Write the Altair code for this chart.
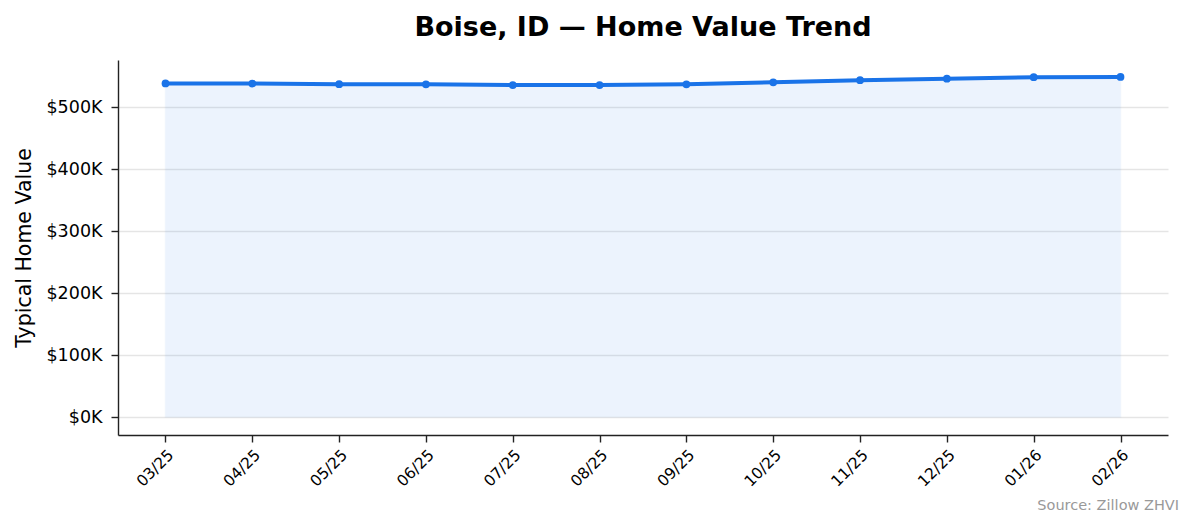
import altair as alt
import pandas as pd

months = ["03/25", "04/25", "05/25", "06/25", "07/25", "08/25",
          "09/25", "10/25", "11/25", "12/25", "01/26", "02/26"]
values = [538200, 538000, 537000, 536700, 535500, 535600,
          536800, 540000, 543500, 545800, 548200, 548600]

df = pd.DataFrame({"month": months, "value": values})

FONT = "DejaVu Sans"
BLUE = "#1a73e8"

x = alt.X("month:O", sort=months, title=None,
          scale=alt.Scale(type="point", padding=0.547),
          axis=alt.Axis(labelAngle=-45, labelFontSize=15.5, labelColor="#000",
                        domainColor="#222", domainWidth=1.4, tickColor="#222",
                        tickSize=7, tickWidth=1.4, labelPadding=5, grid=False))
y = alt.Y("value:Q", title="Typical Home Value",
          scale=alt.Scale(domain=[-29000, 576000], nice=False, zero=False),
          axis=alt.Axis(values=[0, 100000, 200000, 300000, 400000, 500000],
                        labelExpr="'$' + format(datum.value/1000, 'd') + 'K'",
                        labelFontSize=17.5, labelColor="#000", titleFontSize=20.5,
                        titleFontWeight="normal", titleColor="#000", titlePadding=11,
                        domainColor="#222", domainWidth=1.4, tickColor="#222",
                        tickSize=7, tickWidth=1.4, labelPadding=9,
                        grid=True, gridColor="#e5e5e5", gridWidth=1.5))

base = alt.Chart(df)

area = base.mark_area(color=BLUE, opacity=0.08, stroke=BLUE, strokeWidth=1.5,
                      strokeOpacity=0.6).encode(x=x, y=y, y2=alt.datum(0))
line = base.mark_line(color=BLUE, strokeWidth=4).encode(x=x, y=y)
pts = base.mark_point(color=BLUE, filled=True, opacity=1, size=60).encode(x=x, y=y)

src = alt.Chart(pd.DataFrame({"t": ["Source: Zillow ZHVI"]})).mark_text(
    align="right", baseline="middle", fontSize=14.5, color="#999", font=FONT
).encode(text="t:N", x=alt.value(1061), y=alt.value(446))

chart = alt.layer(area, line, pts, src).properties(
    width=1050, height=375,
    title=alt.TitleParams("Boise, ID — Home Value Trend", fontSize=27,
                          fontWeight="bold", font=FONT, color="#000",
                          anchor="middle", offset=18),
    autosize=alt.AutoSizeParams(type="none"),
    padding={"left": 110, "top": 52, "right": 18, "bottom": 86},
).configure_view(stroke=None).configure_axis(labelFont=FONT, titleFont=FONT)

chart.save("out.html", embed_options={"renderer": "svg", "actions": False})
